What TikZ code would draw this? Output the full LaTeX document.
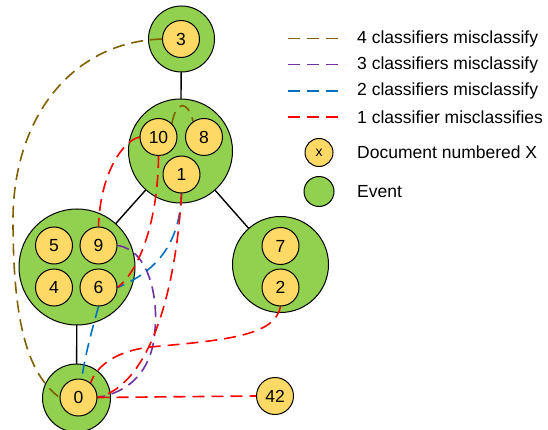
\documentclass[tikz,border=0pt]{standalone}
\usepackage{fontspec}
\setmainfont{Liberation Sans}
\definecolor{evgreen}{HTML}{92D050}
\definecolor{docyellow}{HTML}{FFD966}
\definecolor{olivebrown}{HTML}{7F6000}
\definecolor{mispurple}{HTML}{7030A0}
\definecolor{misblue}{HTML}{0070C0}
\definecolor{misred}{HTML}{FF0000}
\pgfdeclarelayer{treelayer}
\pgfdeclarelayer{eventlayer}
\pgfdeclarelayer{linklayer}
\pgfsetlayers{treelayer,eventlayer,linklayer,main}
\tikzset{
  event/.style={circle, draw=black, line width=1pt, fill=evgreen, inner sep=0pt, minimum size=#1},
  doc/.style={circle, draw=black, line width=1pt, fill=docyellow, inner sep=0pt, minimum size=37pt,
              font=\fontsize{17.5}{20}\selectfont},
  tree/.style={draw=black, line width=1.4pt},
  miss/.style={line width=1.6pt, dash pattern=on 12pt off 7pt},
  four/.style={miss, draw=olivebrown},
  three/.style={miss, draw=mispurple},
  two/.style={miss, draw=misblue},
  one/.style={miss, draw=misred},
  legtext/.style={anchor=west, inner sep=0pt, font=\fontsize{17.5}{20}\selectfont},
}
\begin{document}
\begin{tikzpicture}[x=1pt, y=-1pt]
\useasboundingbox (0,0) rectangle (548,430);

% events
\begin{pgfonlayer}{eventlayer}
\node[event=66pt]  (e3)     at (181.5,39)    {};
\node[event=104pt] (etop)   at (180.5,151)   {};
\node[event=116pt] (eleft)  at (77,267)      {};
\node[event=96pt]  (eright) at (280.5,264.5) {};
\node[event=68pt]  (e0)     at (76.5,398)    {};
\end{pgfonlayer}

% tree edges between events
\begin{pgfonlayer}{treelayer}
\draw[tree] (e3.center) -- (etop.center);
\draw[tree] (etop.center) -- (eleft.center);
\draw[tree] (etop.center) -- (eright.center);
\draw[tree] (eleft.center) -- (e0.center);
\end{pgfonlayer}

% documents
\node[doc] (d3)  at (181,39)      {3};
\node[doc] (d10) at (158.5,137)   {10};
\node[doc] (d8)  at (204,137)     {8};
\node[doc] (d1)  at (181.5,174.5) {1};
\node[doc] (d5)  at (54,245.5)    {5};
\node[doc] (d9)  at (98.5,245.5)  {9};
\node[doc] (d4)  at (54,287.5)    {4};
\node[doc] (d6)  at (98.5,287.5)  {6};
\node[doc] (d7)  at (280.5,246)   {7};
\node[doc] (d2)  at (280.5,287.5) {2};
\node[doc] (d0)  at (78.5,397.5)  {0};
\node[doc] (d42) at (275,396)     {42};

% misclassification links
\begin{pgfonlayer}{linklayer}
\draw[four] (d3.west) .. controls (70,42) and (13,120) .. (13,220)
            .. controls (13,330) and (30,375) .. (d0.west);
\draw[four] (d10.45) .. controls (176,100) and (188,100) .. (d8.125);

\draw[three] (d9.east) .. controls (150,250) and (158,300) .. (155,330)
             .. controls (152,375) and (125,393) .. (d0.east);

\draw[two] (d1.south) .. controls (180,240) and (160,270) .. (d6.east);
\draw[two] (d6.south) .. controls (92,330) and (85,355) .. (d0.80);

\draw[one] (d10.west) .. controls (122,141) and (100,175) .. (d9.north);
\draw[one] (d10.south) .. controls (158,220) and (140,270) .. (d6.east);
\draw[one] (d1.south) .. controls (176,290) and (150,385) .. (d0.east);
\draw[one] (d2.south) .. controls (275,335) and (230,340) .. (150,347)
           .. controls (110,352) and (95,370) .. (d0.50);
\draw[one] (d0.east) -- (d42.west);
\end{pgfonlayer}

% legend
\coordinate (l4a) at (288,38.5);  \coordinate (l4b) at (345,38.5);
\coordinate (l3a) at (288,64.5);  \coordinate (l3b) at (345,64.5);
\coordinate (l2a) at (288,91);    \coordinate (l2b) at (345,91);
\coordinate (l1a) at (288,117);   \coordinate (l1b) at (345,117);
\draw[four]  (l4a) -- (l4b);
\draw[three] (l3a) -- (l3b);
\draw[two]   (l2a) -- (l2b);
\draw[one]   (l1a) -- (l1b);
\node[legtext] (t4) at (357,38.5) {4 classifiers misclassify};
\node[legtext] (t3) at (357,64.5) {3 classifiers misclassify};
\node[legtext] (t2) at (357,91)   {2 classifiers misclassify};
\node[legtext] (t1) at (357,117)  {1 classifier misclassifies};
\node[doc, minimum size=28pt, font=\fontsize{14}{16}\selectfont] (ldoc) at (319,152.5) {x};
\node[legtext] (tdoc) at (357,152.5) {Document numbered X};
\node[event=30pt] (lev) at (319,191.5) {};
\node[legtext] (tev) at (357,191.5) {Event};
\end{tikzpicture}
\end{document}
